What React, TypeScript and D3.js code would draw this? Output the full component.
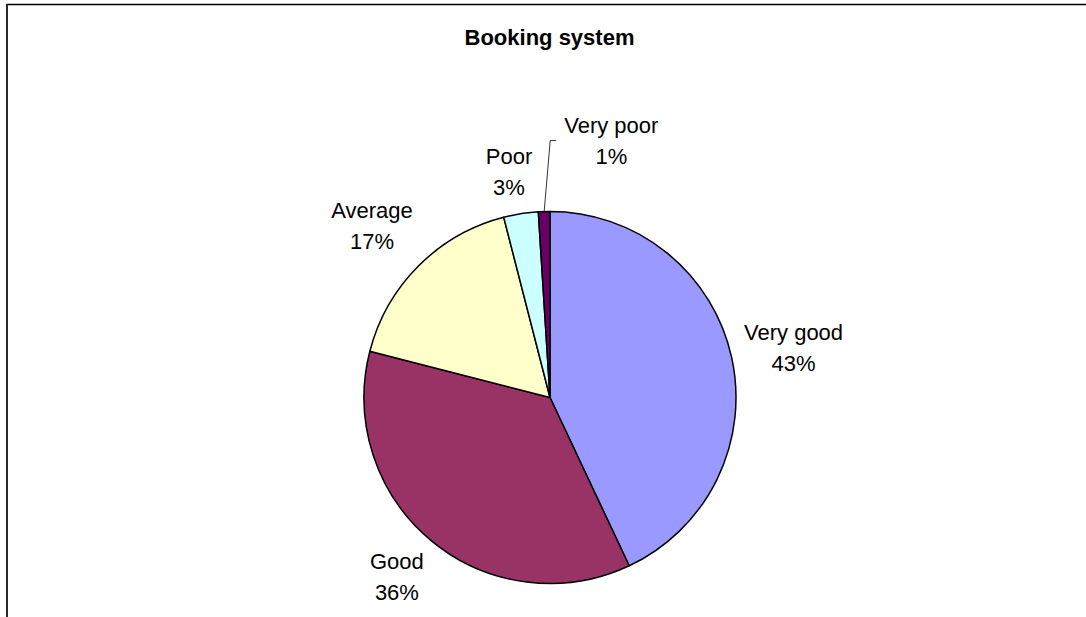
import { useMemo } from 'react'
import * as d3 from 'd3'

const categories = ['Very good', 'Good', 'Average', 'Poor', 'Very poor']
const values = [43, 36, 17, 3, 1]
const colors = ['#9999FF', '#993366', '#FFFFCC', '#CCFFFF', '#660066']
const title = 'Booking system'

const W = 1086
const H = 617
const CX = 550
const CY = 397.5
const R = 186
const FONT = 'Liberation Sans, Arial, Helvetica, sans-serif'
const LABEL_SIZE = 22
const LINE_H = 31
const GAP = 10

// small hand corrections to match Excel's "best fit" placement
const labelNudge: Record<string, [number, number]> = {
  'Very good': [-1.5, 5],
  Good: [-2, -3.5],
  Average: [-3.5, 2.5],
  Poor: [-5, 1.5],
}

function measure(text: string, size: number, weight = 'normal'): number {
  const ctx = document.createElement('canvas').getContext('2d')
  if (!ctx) return text.length * size * 0.55
  ctx.font = `${weight} ${size}px ${FONT}`
  return ctx.measureText(text).width
}

interface Label {
  lines: string[]
  x: number
  y: number
  w: number
  leader?: [number, number][]
}

export default function App() {
  const arcs = useMemo(
    () => d3.pie<number>().sort(null).value((d) => d)(values),
    []
  )
  const arcGen = d3.arc<d3.PieArcDatum<number>>().innerRadius(0).outerRadius(R)
  const total = d3.sum(values)

  // labels outside the slice, box just clear of the rim
  const labels: Label[] = []
  arcs.forEach((a, i) => {
    const lines = [categories[i], `${Math.round((values[i] / total) * 100)}%`]
    const w = d3.max(lines, (l) => measure(l, LABEL_SIZE)) ?? 0
    const h = LINE_H * 2
    const mid = (a.startAngle + a.endAngle) / 2
    const sx = Math.sin(mid)
    const sy = -Math.cos(mid)
    const small = a.endAngle - a.startAngle < 0.1
    if (small && labels.length) {
      // tiny slice: lift label up/right of the previous one, with a leader line
      const prev = labels[labels.length - 1]
      const ex = prev.x + prev.w / 2 + 18
      const ey = prev.y - LINE_H
      labels.push({
        lines,
        x: ex + 14 + w / 2,
        y: ey,
        w,
        leader: [
          [CX + R * sx, CY + R * sy],
          [ex, ey],
          [ex + 6, ey],
        ],
      })
      return
    }
    const ext = Math.abs(sx) * (w / 2) + Math.abs(sy) * (h / 2)
    const rr = R + GAP + ext
    const [nx, ny] = labelNudge[categories[i]] ?? [0, 0]
    labels.push({ lines, x: CX + rr * sx + nx, y: CY + rr * sy + ny, w })
  })

  return (
    <svg
      width={W}
      height={H}
      style={{ position: 'absolute', left: 0, top: 0, display: 'block', background: '#fff' }}
    >
      {/* chart area frame (cropped on right/bottom) */}
      <line x1={6} y1={4.5} x2={W} y2={4.5} stroke="#000" strokeWidth={1.3} />
      <line x1={7} y1={4} x2={7} y2={H} stroke="#2a2a2a" strokeWidth={2} />

      <text
        x={549.5}
        y={45}
        textAnchor="middle"
        fontFamily={FONT}
        fontWeight="bold"
        fontSize={22}
        fill="#000"
      >
        {title}
      </text>

      <g transform={`translate(${CX},${CY})`}>
        {arcs.map((a, i) => (
          <path
            key={categories[i]}
            d={arcGen(a) ?? ''}
            fill={colors[i]}
            stroke="#000"
            strokeWidth={1.5}
            strokeLinejoin="round"
          />
        ))}
      </g>

      {labels.map((l) => (
        <g key={l.lines[0]}>
          {l.leader && (
            <polyline
              points={l.leader.map((p) => p.join(',')).join(' ')}
              fill="none"
              stroke="#000"
              strokeWidth={0.8}
            />
          )}
          {l.lines.map((t, k) => (
            <text
              key={t}
              x={l.x}
              y={l.y - LINE_H / 2 + LABEL_SIZE * 0.36 + k * LINE_H}
              textAnchor="middle"
              fontFamily={FONT}
              fontSize={LABEL_SIZE}
              fill="#000"
            >
              {t}
            </text>
          ))}
        </g>
      ))}
    </svg>
  )
}
